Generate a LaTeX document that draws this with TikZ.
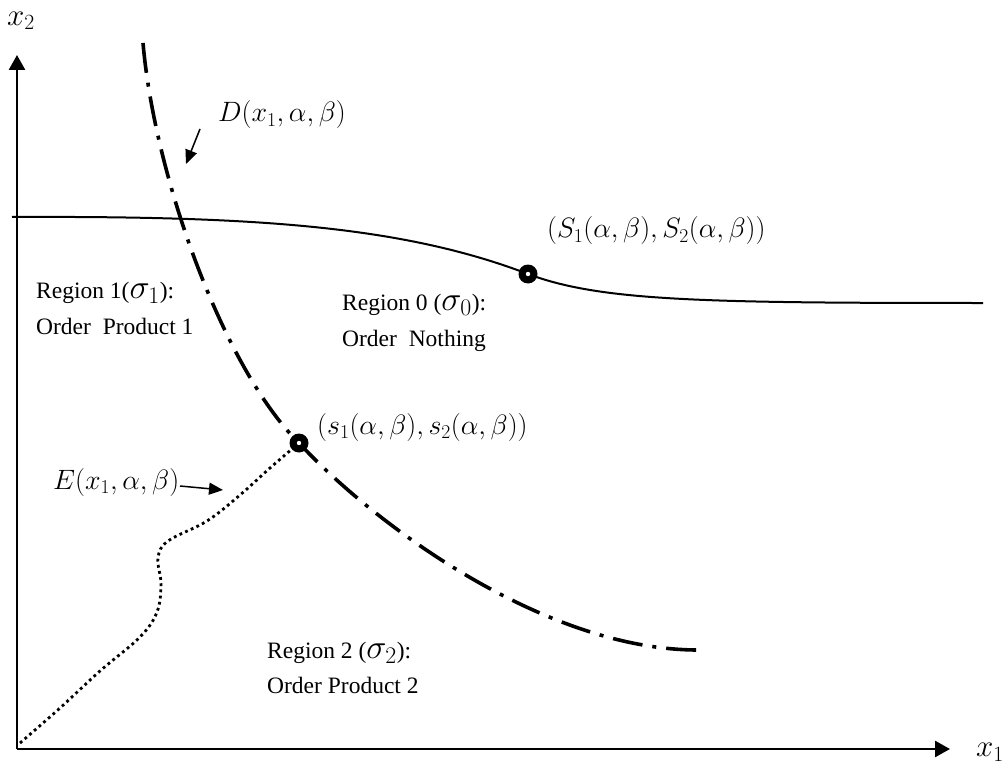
\RequirePackage{fix-cm}
\documentclass[tikz,border=0pt]{standalone}
\usepackage[no-math]{fontspec}
\setmainfont{Liberation Serif}
\usepackage{tikz}
\usetikzlibrary{arrows.meta}
\newcommand{\bigsig}[1]{{\fontsize{34}{35}\selectfont$\sigma_{#1}$}}

\begin{document}
\begin{tikzpicture}[x=1pt,y=-1pt,
  axis/.style={line width=2.6pt,-{Triangle[length=15pt,width=16pt]}},
  frontier/.style={line width=2pt},
  dashdot/.style={line width=3.6pt,dash pattern=on 30pt off 10pt on 4pt off 10pt},
  dots/.style={line width=2.8pt,dash pattern=on 2.8pt off 3.4pt},
  pointer/.style={line width=1.5pt,-{Triangle[length=14pt,width=12pt]}},
  pt/.style={circle,fill=black,inner sep=0pt,minimum size=19pt,
    path picture={\fill[white] (path picture bounding box.center) circle (2.2pt);}},
  mlabel/.style={font=\fontsize{28}{33}\selectfont,inner sep=0pt,anchor=west},
  region/.style={font=\fontsize{23.5}{35}\selectfont,inner sep=0pt,anchor=base west}]
\useasboundingbox (0,0) rectangle (1008,767);

\coordinate (O) at (17,749);
\coordinate (xend) at (950,749);
\coordinate (yend) at (17,55);
\coordinate (Sbig) at (528,274);
\coordinate (Ssmall) at (299,443);

\draw[axis] (O) -- (xend);
\draw[axis] (O) -- (yend);
\node[mlabel,font=\fontsize{31}{36}\selectfont] (x2lab) at (7,21) {$x_2$};
\node[mlabel,font=\fontsize{31}{36}\selectfont] (x1lab) at (976,752) {$x_1$};

% upper threshold curve
\draw[frontier] (12,217) .. controls (250,216) and (400,225) .. (Sbig)
  .. controls (600,301) and (700,303) .. (983,303);
% D curve
\draw[dashdot] (143,43) .. controls (155,180) and (225,370) .. (Ssmall)
  .. controls (375,525) and (545,650) .. (698,650);
% E curve
\draw[dots] plot[smooth,tension=0.6] coordinates {(20,743) (60,708) (100,671) (140,637)
  (157,612) (161,584) (158,558) (168,541) (207,521) (240,495) (270,468) (299,443)};

\node[pt] (bigpt) at (Sbig) {};
\node[pt] (smallpt) at (Ssmall) {};

\node[mlabel] (Dlab) at (218,115) {$D(x_1,\alpha,\beta)$};
\node[mlabel] (Slab) at (547,231) {$(S_1(\alpha,\beta),S_2(\alpha,\beta))$};
\node[mlabel] (slab) at (317,427) {$(s_1(\alpha,\beta),s_2(\alpha,\beta))$};
\node[mlabel] (Elab) at (53,482) {$E(x_1,\alpha,\beta)$};

\coordinate (Dtail) at (200,129);
\coordinate (Dtip) at (186,164);
\coordinate (Etail) at (180,486);
\coordinate (Etip) at (223,490);
\draw[pointer] (Dtail) -- (Dtip);
\draw[pointer] (Etail) -- (Etip);

\node[region] (reg1) at (36,298) {Region 1(\bigsig{1}):};
\node[region] (reg1o) at (36,334) {Order\ \ Product 1};
\node[region] (reg0) at (342,310) {Region 0 (\bigsig{0}):};
\node[region] (reg0o) at (342,346) {Order\ \ Nothing};
\node[region] (reg2) at (267,658) {Region 2 (\bigsig{2}):};
\node[region] (reg2o) at (267,693) {Order Product 2};
\end{tikzpicture}
\end{document}
